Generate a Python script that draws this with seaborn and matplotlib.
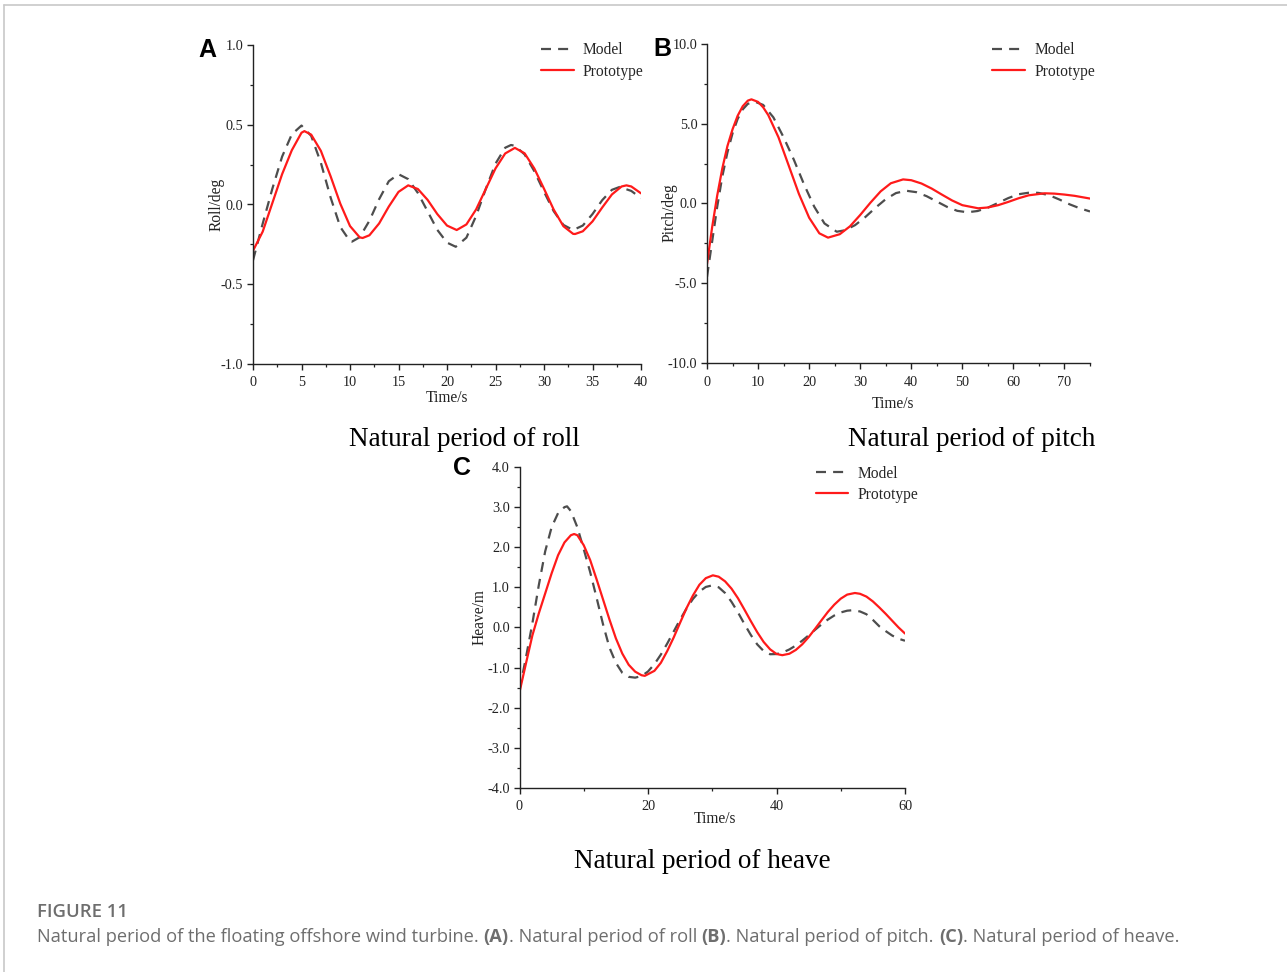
import matplotlib
matplotlib.use("Agg")
import matplotlib.pyplot as plt
from matplotlib.ticker import MultipleLocator, FormatStrFormatter
from matplotlib.lines import Line2D
import seaborn as sns
import pandas as pd

# ---------------- data ----------------
roll_model_t = [0, 1, 2, 3, 4, 5, 6, 7, 8, 9, 10, 10.2, 11, 12, 13, 14, 15, 16, 17, 18, 19, 20,
                20.9, 22, 23, 24, 25, 26, 26.6, 27, 28, 29, 30, 31, 32, 33, 34, 35, 36, 37, 37.8, 39, 40]
roll_model_v = [-0.35, -0.12, 0.10, 0.30, 0.44, 0.495, 0.43, 0.261, 0.044, -0.141, -0.23, -0.233,
                -0.205, -0.102, 0.033, 0.146, 0.19, 0.159, 0.072, -0.043, -0.159, -0.239,
                -0.265, -0.208, -0.072, 0.098, 0.256, 0.356, 0.373, 0.368, 0.314, 0.209, 0.08,
                -0.042, -0.128, -0.16, -0.132, -0.06, 0.027, 0.092, 0.11, 0.085, 0.04]
roll_proto_t = [0, 1, 2, 3, 4, 5, 5.3, 6, 7, 8, 9, 10, 11, 11.3, 12, 13, 14, 15, 16, 17, 18, 19,
                20, 21, 22, 23, 24, 25, 26, 27, 28, 29, 30, 31, 32, 33, 33.2, 34, 35, 36, 37, 38,
                38.5, 39, 40]
roll_proto_v = [-0.29, -0.17, 0.01, 0.19, 0.34, 0.45, 0.46, 0.438, 0.336, 0.177, 0.005, -0.135,
                -0.206, -0.21, -0.193, -0.119, -0.013, 0.079, 0.12, 0.097, 0.029, -0.06, -0.132,
                -0.16, -0.125, -0.031, 0.0975, 0.226, 0.32, 0.355, 0.321, 0.226, 0.099, -0.032,
                -0.136, -0.184, -0.185, -0.168, -0.106, -0.019, 0.063, 0.113, 0.12, 0.113, 0.07]

pitch_model_t = [0, 1, 2, 3, 4, 5, 6, 7, 8, 9.4, 11, 13, 15, 17, 19, 21, 23, 25.4, 27, 29, 31,
                 33, 35, 37, 39, 41, 43, 45, 47, 49, 51, 53, 55, 57, 59, 61, 63.5, 65, 67, 69,
                 71, 73, 75]
pitch_model_v = [-4.6, -2.4, -0.2, 1.7, 3.2, 4.4, 5.3, 5.9, 6.25, 6.38, 6.18, 5.40, 4.15, 2.75,
                 1.2, -0.2, -1.25, -1.77, -1.68, -1.355, -0.85, -0.265, 0.272, 0.653, 0.80,
                 0.71, 0.46, 0.125, -0.21, -0.46, -0.55, -0.47, -0.26, 0.036, 0.34, 0.58, 0.70,
                 0.66, 0.52, 0.25, -0.05, -0.30, -0.50]
pitch_proto_t = [0, 1, 2, 3, 4, 5, 6, 7, 8, 8.7, 10, 11, 12, 14, 16, 18, 20, 22, 23.7, 26, 28,
                 30, 32, 34, 36, 38.4, 40, 42, 44, 46, 48, 50, 53.1, 55, 57, 59, 61, 63, 66.1,
                 68, 70, 72, 75]
pitch_proto_v = [-3.8, -1.5, 0.5, 2.2, 3.6, 4.65, 5.5, 6.1, 6.45, 6.53, 6.37, 6.03, 5.54, 4.15,
                 2.38, 0.60, -0.89, -1.87, -2.14, -1.925, -1.43, -0.72, 0.05, 0.76, 1.27, 1.51,
                 1.46, 1.254, 0.936, 0.557, 0.19, -0.105, -0.30, -0.25, -0.106, 0.10, 0.327,
                 0.514, 0.64, 0.62, 0.56, 0.48, 0.31]

heave_model_t = [0, 1, 2, 3, 4, 5, 6, 7, 7.4, 8, 9, 10, 11, 12, 13, 14, 15, 16, 17, 18, 19, 20,
                 21, 22, 23, 24, 25, 26, 27, 28, 29, 30, 31, 32, 33, 34, 35, 36, 37, 38, 39,
                 40, 41, 42, 43, 44, 45, 46, 47, 48, 49, 50, 51, 51.8, 53, 54, 55, 56, 57, 58,
                 59, 60]
heave_model_v = [-1.55, -0.75, 0.1, 1.05, 1.9, 2.5, 2.85, 3.0, 3.02, 2.9, 2.5, 1.95, 1.38, 0.74,
                 0.08, -0.5, -0.88, -1.13, -1.23, -1.25, -1.21, -1.096, -0.913, -0.675, -0.398,
                 -0.1, 0.198, 0.475, 0.713, 0.896, 1.011, 1.05, 1.002, 0.859, 0.639, 0.378,
                 0.089, -0.185, -0.421, -0.587, -0.666, -0.662, -0.62, -0.547, -0.45, -0.329,
                 -0.196, -0.058, 0.077, 0.198, 0.30, 0.375, 0.419, 0.43, 0.40, 0.33, 0.19, 0.03,
                 -0.09, -0.2, -0.28, -0.33]
heave_proto_t = [0, 1, 2, 3, 4, 5, 6, 7, 8, 8.5, 9, 10, 11, 12, 13, 14, 15, 16, 17, 18, 19, 19.5,
                 21, 22, 23, 24, 25, 26, 27, 28, 29, 30.1, 31, 32, 33, 34, 35, 36, 37, 38, 39,
                 40, 40.9, 42, 43, 44, 45, 46, 47, 48, 49, 50, 51, 52.2, 53, 54, 55, 56, 57, 58,
                 59, 60]
heave_proto_v = [-1.61, -0.9, -0.2, 0.35, 0.85, 1.35, 1.8, 2.12, 2.3, 2.33, 2.3, 2.05, 1.68, 1.2,
                 0.7, 0.2, -0.27, -0.65, -0.93, -1.1, -1.19, -1.205, -1.08, -0.88, -0.585,
                 -0.248, 0.12, 0.483, 0.80, 1.065, 1.23, 1.30, 1.266, 1.15, 0.968, 0.73, 0.449,
                 0.16, -0.117, -0.36, -0.543, -0.66, -0.69, -0.654, -0.56, -0.42, -0.24, -0.034,
                 0.18, 0.389, 0.57, 0.719, 0.82, 0.86, 0.84, 0.77, 0.65, 0.50, 0.34, 0.17, 0.0,
                 -0.15]

series_names = ["Model", "Prototype"]
panel_letters = ["A", "B", "C"]
panel_titles = ["Natural period of roll", "Natural period of pitch", "Natural period of heave"]
y_labels = ["Roll/deg", "Pitch/deg", "Heave/m"]
x_label = "Time/s"
caption_head = "FIGURE 11"
caption_parts = [("Natural period of the floating offshore wind turbine. ", "normal"),
                 ("(A)", "bold"), (". Natural period of roll ", "normal"),
                 ("(B)", "bold"), (". Natural period of pitch. ", "normal"),
                 ("(C)", "bold"), (". Natural period of heave.", "normal")]

# ---------------- style ----------------
sns.set_style("ticks")
plt.rcParams["font.family"] = ["Liberation Serif", "DejaVu Serif"]
plt.rcParams["axes.unicode_minus"] = False

W, H = 1287, 972
fig = plt.figure(figsize=(W / 100, H / 100), dpi=100)
fig.patch.set_facecolor("white")

GRAY = "#4d4d4d"
RED = "#ff1a1a"
SERIF = ["Liberation Serif", "DejaVu Serif"]


def px_axes(l, r, t, b):
    return fig.add_axes([l / W, 1 - b / H, (r - l) / W, (b - t) / H])


axA = px_axes(253, 641, 45, 364)
axB = px_axes(707, 1090, 44, 363)
axC = px_axes(519.5, 905, 467, 788)

panels = [
    (axA, roll_model_t, roll_model_v, roll_proto_t, roll_proto_v,
     (0, 40), 5, 2.5, (-1.0, 1.0), 0.5, 0.25),
    (axB, pitch_model_t, pitch_model_v, pitch_proto_t, pitch_proto_v,
     (0, 75), 10, 5, (-10.0, 10.0), 5.0, 2.5),
    (axC, heave_model_t, heave_model_v, heave_proto_t, heave_proto_v,
     (0, 60), 20, 10, (-4.0, 4.0), 1.0, 0.5),
]

for (ax, tm, vm, tp, vp, xl, xmaj, xmin, yl, ymaj, ymin) in panels:
    dm = pd.DataFrame({"t": tm, "v": vm})
    dp = pd.DataFrame({"t": tp, "v": vp})
    sns.lineplot(data=dm, x="t", y="v", ax=ax, color=GRAY, linewidth=1.6,
                 linestyle=(0, (4.5, 3.2)), label=series_names[0], estimator=None)
    sns.lineplot(data=dp, x="t", y="v", ax=ax, color=RED, linewidth=1.6,
                 label=series_names[1], estimator=None)
    ax.set_xlim(*xl)
    ax.set_ylim(*yl)
    ax.xaxis.set_major_locator(MultipleLocator(xmaj))
    ax.xaxis.set_minor_locator(MultipleLocator(xmin))
    ax.yaxis.set_major_locator(MultipleLocator(ymaj))
    ax.yaxis.set_minor_locator(MultipleLocator(ymin))
    ax.xaxis.set_major_formatter(FormatStrFormatter("%d"))
    ax.yaxis.set_major_formatter(FormatStrFormatter("%.1f"))
    sns.despine(ax=ax)
    for s in ("left", "bottom"):
        ax.spines[s].set_linewidth(1.0)
        ax.spines[s].set_color("#222222")
    ax.tick_params(which="major", direction="out", length=4, width=1.0, color="#222222",
                   labelsize=10.3, labelcolor="#222222")
    ax.tick_params(which="minor", direction="out", length=2.5, width=0.9, color="#222222")
    ax.tick_params(axis="x", which="major", pad=5)
    ax.tick_params(axis="y", which="major", pad=3)
    ax.set_facecolor("white")
    ax.patch.set_alpha(0)

# axis labels
label_pos = [((0.5, -0.106), (-0.093, 0.5)),
             ((0.486, -0.128), (-0.097, 0.47)),
             ((0.508, -0.097), (-0.104, 0.533))]
for ax, yl_text, (xp, yp) in zip([axA, axB, axC], y_labels, label_pos):
    ax.set_xlabel(x_label, fontsize=11.2, va="center", color="#222222")
    ax.set_ylabel(yl_text, fontsize=11.2, va="center", color="#222222")
    ax.xaxis.set_label_coords(*xp)
    ax.yaxis.set_label_coords(*yp)

# legends
leg_anchor = [(axA, (0.742, 1.008)), (axB, (0.745, 1.005)), (axC, (0.768, 1.004))]
for ax, anc in leg_anchor:
    ax.legend(loc="upper left", bbox_to_anchor=anc, frameon=False, fontsize=11.2,
              handlelength=2.1, handletextpad=0.6, labelspacing=0.33,
              borderpad=0, borderaxespad=0)

# panel letters
for letter, (x, y) in zip(panel_letters, [(207, 50), (662, 49), (462, 468)]):
    fig.text(x / W, 1 - y / H, letter, ha="center", va="center", fontsize=18,
             fontweight="bold", family=["Liberation Sans", "DejaVu Sans"], color="black")

# panel titles
for title, (x, y) in zip(panel_titles, [(464, 439), (972, 439), (702, 861)]):
    fig.text(x / W, 1 - y / H, title, ha="center", va="center", fontsize=19.5,
             family=SERIF, color="black")

# figure border (top and left)
fig.add_artist(Line2D([4 / W, 1], [1 - 5 / H, 1 - 5 / H], color="#c8c8c8", linewidth=1.2))
fig.add_artist(Line2D([4 / W, 4 / W], [0, 1 - 5 / H], color="#c8c8c8", linewidth=1.2))

# caption
CAPFONT = ["Open Sans", "DejaVu Sans"]
fig.text(37 / W, 1 - 912 / H, caption_head, ha="left", va="center", fontsize=13.3,
         family=CAPFONT, fontweight="semibold", color="#6e6e6e")
renderer = fig.canvas.get_renderer()
xcur = 37.0
for txt, wt in caption_parts:
    t = fig.text(xcur / W, 1 - 937 / H, txt, ha="left", va="center", fontsize=13.15,
                 family=CAPFONT, fontweight=wt, color="#6e6e6e")
    bb = t.get_window_extent(renderer)
    xcur += bb.width

fig.savefig("out.png", dpi=100, facecolor="white")
